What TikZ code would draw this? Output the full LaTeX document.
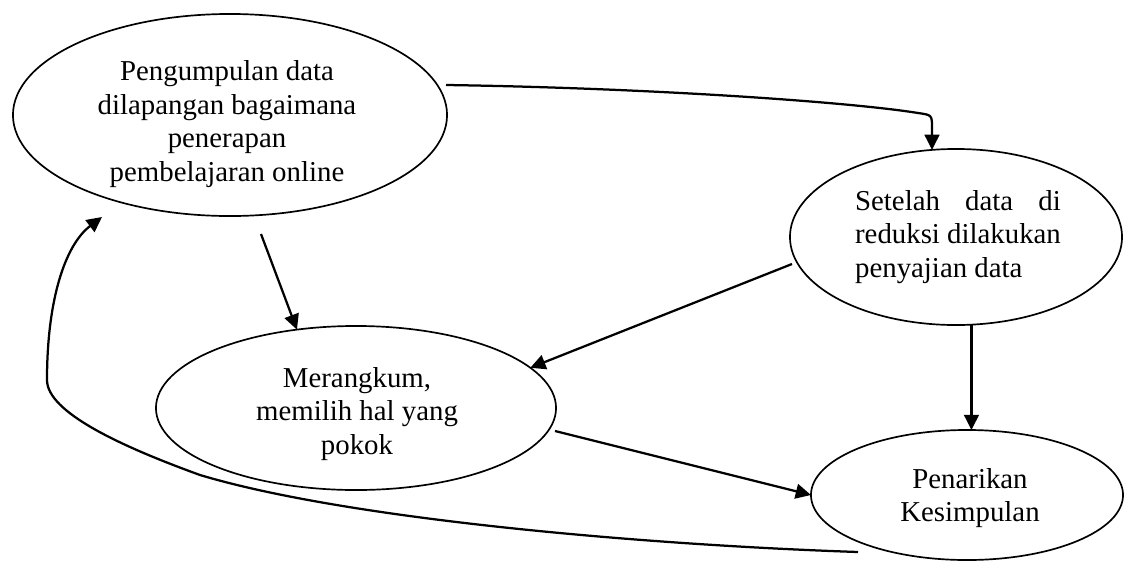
\documentclass[tikz,border=0pt]{standalone}
\usepackage{fontspec}
\setmainfont{Liberation Serif}
\usepackage{calc}
\usetikzlibrary{arrows.meta,shapes.geometric}
\begin{document}
\begin{tikzpicture}[x=0.025cm,y=-0.025cm,
  oval/.style={draw,ellipse,line width=1.2pt,inner sep=0pt,outer sep=0pt},
  lbl/.style={font=\fontsize{20.5}{24}\selectfont,align=center,inner sep=0pt},
  arr/.style={line width=1.6pt,-{Triangle[length=0.38cm,width=0.37cm]}}]
\useasboundingbox[fill=white] (0,0) rectangle (1125,560);
% ellipses
\node[oval,minimum width=10.85cm,minimum height=5.05cm] (e1) at (230,115) {};
\node[oval,minimum width=8.3cm,minimum height=4.4cm] (e2) at (956,237) {};
\node[oval,minimum width=10cm,minimum height=4.1cm] (e3) at (356,408) {};
\node[oval,minimum width=7.8cm,minimum height=3.25cm] (e4) at (967,495) {};
% texts
\node[lbl] (t1) at (227,124) {Pengumpulan data\\dilapangan bagaimana\\penerapan\\pembelajaran online};
\node[lbl,align=left] (t2) at (958,237) {\makebox[\widthof{reduksi dilakukan}][s]{Setelah data di}\\reduksi dilakukan\\penyajian data};
\node[lbl] (t3) at (357,414) {Merangkum,\\memilih hal yang\\pokok};
\node[lbl] (t4) at (970,498) {Penarikan\\Kesimpulan};
% free ends
\coordinate (a1s) at (446,85);
\coordinate (a1k) at (932,128);
\coordinate (a2s) at (261,234);
\coordinate (a3s) at (792,264);
\coordinate (a5s) at (555,431);
\coordinate (a6s) at (858,552);
\coordinate (a6e) at (102,217);
% connectors
\draw[arr] (a1s) .. controls (650,88) and (850,102) .. (918,113)
  .. controls (932,115) .. (a1k) -- (a1k |- e2.105.4);
\draw[arr] (a2s) -- (e3.127);
\draw[arr] (a3s) -- (e3.13.3);
\draw[arr] (e2.-80.3) -- (e2.-80.3 |- e4.north);
\draw[arr] (a5s) -- (e4.west);
\draw[arr] (a6s) .. controls (650,545) and (350,520) .. (200,475)
  .. controls (120,446) and (47,412) .. (47,380)
  .. controls (47,300) and (65,245) .. (a6e);
\end{tikzpicture}
\end{document}
